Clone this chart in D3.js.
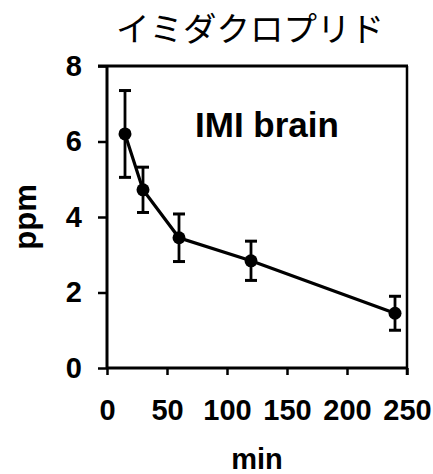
<!DOCTYPE html>
<html>
<head>
<meta charset="utf-8">
<script src="https://cdn.jsdelivr.net/npm/d3@7"></script>
<style>
  html, body { margin: 0; padding: 0; background: #fff; }
  svg { display: block; }
</style>
</head>
<body>
<svg id="chart" width="433" height="474"></svg>
<script>
// Imidacloprid concentration in brain over time (mean ± error)
const times = [15, 30, 60, 120, 240];
const ppm = [6.2, 4.72, 3.45, 2.84, 1.45];
const errors = [1.15, 0.6, 0.63, 0.52, 0.45];
const xTicks = [0, 50, 100, 150, 200, 250];
const yTicks = [0, 2, 4, 6, 8];
const titleText = "イミダクロプリド";
const seriesLabel = "IMI brain";
const xLabel = "min";
const yLabel = "ppm";

const svg = d3.select("#chart");
const margin = { left: 107, right: 26, top: 66, bottom: 106 };
const W = 433, H = 474;

const x = d3.scaleLinear().domain([0, 250]).range([margin.left, W - margin.right]);
const y = d3.scaleLinear().domain([0, 8]).range([H - margin.bottom, margin.top]);

const boldFont = "'Liberation Sans', Arial, sans-serif";

// frame: top and right lines
svg.append("line")
  .attr("x1", x(0) - 9).attr("x2", x(250) + 1)
  .attr("y1", y(8)).attr("y2", y(8))
  .attr("stroke", "#000").attr("stroke-width", 3);
svg.append("line")
  .attr("x1", x(250)).attr("x2", x(250))
  .attr("y1", y(8)).attr("y2", y(0) + 7)
  .attr("stroke", "#000").attr("stroke-width", 2.5);

// axes
const xAxis = d3.axisBottom(x).tickValues(xTicks).tickSize(7).tickPadding(24);
const yAxis = d3.axisLeft(y).tickValues(yTicks).tickSize(9).tickPadding(16);

const gx = svg.append("g").attr("transform", `translate(0,${y(0)})`).call(xAxis);
const gy = svg.append("g").attr("transform", `translate(${x(0)},0)`).call(yAxis);

[gx, gy].forEach(g => {
  g.select(".domain").attr("stroke", "#000").attr("stroke-width", 3);
  g.selectAll(".tick line").attr("stroke", "#000").attr("stroke-width", 2.5);
  g.selectAll(".tick text")
    .attr("fill", "#000")
    .style("font-family", boldFont)
    .style("font-weight", "bold")
    .style("font-size", "29px");
});
gx.select(".domain").attr("d", `M${x(0)},0H${x(250)}`);
gy.select(".domain").attr("d", `M0,${y(0)}V${y(8)}`);

// line
const line = d3.line().x((d, i) => x(times[i])).y(d => y(d));
svg.append("path")
  .datum(ppm)
  .attr("d", line)
  .attr("fill", "none")
  .attr("stroke", "#000")
  .attr("stroke-width", 3.2);

// error bars
const eb = svg.append("g").selectAll("g").data(times).join("g");
eb.append("line")
  .attr("x1", d => x(d)).attr("x2", d => x(d))
  .attr("y1", (d, i) => y(ppm[i] + errors[i]))
  .attr("y2", (d, i) => y(ppm[i] - errors[i]))
  .attr("stroke", "#000").attr("stroke-width", 2.8);
[1, -1].forEach(s => {
  eb.append("line")
    .attr("x1", d => x(d) - 6).attr("x2", d => x(d) + 6)
    .attr("y1", (d, i) => y(ppm[i] + s * errors[i]))
    .attr("y2", (d, i) => y(ppm[i] + s * errors[i]))
    .attr("stroke", "#000").attr("stroke-width", 3);
});

// markers
svg.append("g").selectAll("circle").data(times).join("circle")
  .attr("cx", d => x(d))
  .attr("cy", (d, i) => y(ppm[i]))
  .attr("r", 6.5)
  .attr("fill", "#000");

// series label
svg.append("text")
  .attr("x", 195).attr("y", 137)
  .style("font-family", boldFont)
  .style("font-weight", "bold")
  .style("font-size", "35px")
  .text(seriesLabel);

// title
svg.append("text")
  .attr("x", 250).attr("y", 41)
  .attr("text-anchor", "middle")
  .style("font-family", "'Noto Sans CJK JP', sans-serif")
  .style("font-size", "33.5px")
  .text(titleText);

// axis titles
svg.append("text")
  .attr("x", x(125)).attr("y", 469)
  .attr("text-anchor", "middle")
  .style("font-family", boldFont)
  .style("font-weight", "bold")
  .style("font-size", "29px")
  .text(xLabel);

svg.append("text")
  .attr("transform", `translate(36,${y(4)}) rotate(-90)`)
  .attr("text-anchor", "middle")
  .style("font-family", boldFont)
  .style("font-weight", "bold")
  .style("font-size", "31px")
  .text(yLabel);
</script>
</body>
</html>
